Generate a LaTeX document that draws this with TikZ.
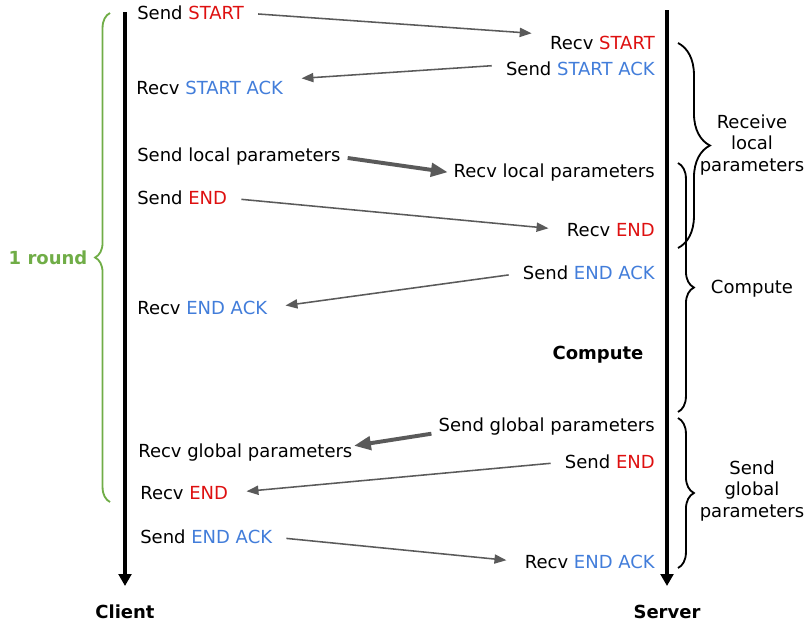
\documentclass[tikz,border=0pt]{standalone}
\usepackage{fontspec}
\setmainfont{DejaVu Sans}
\usetikzlibrary{arrows.meta, decorations.pathreplacing}

\definecolor{msgred}{RGB}{222,16,16}
\definecolor{msgblue}{RGB}{66,125,218}
\definecolor{roundgreen}{RGB}{112,173,71}
\definecolor{msggray}{RGB}{90,90,90}
\newcommand{\redtxt}[1]{\textcolor{msgred}{#1}}
\newcommand{\bluetxt}[1]{\textcolor{msgblue}{#1}}

\begin{document}
\begin{tikzpicture}[x=0.025cm, y=-0.025cm,
  font=\fontsize{12.8}{15.4}\selectfont,
  bold/.style={font=\fontsize{12.8}{15.4}\selectfont\bfseries},
  lbl/.style={inner sep=0pt, anchor=west},
  rbl/.style={inner sep=0pt, anchor=east},
  msg/.style={draw=msggray, line width=1.1pt, -{Triangle[length=8.5pt, width=6.5pt]},
              shorten <=10pt, shorten >=13pt},
  bigmsg/.style={msg, line width=2.8pt, -{Triangle[length=12pt, width=9.5pt]},
                 shorten <=5pt, shorten >=4pt},
  axis/.style={line width=2.8pt, -{Triangle[length=8.5pt, width=9pt]}},
  brc/.style={decorate, decoration={brace, amplitude=#1}, line width=1.3pt}]
\useasboundingbox (0,0) rectangle (806,626);

% Time axes
\coordinate (ctop) at (125,12);
\coordinate (cbot) at (125,586);
\coordinate (stop) at (667,10);
\coordinate (sbot) at (667,586);
\draw[axis] (ctop) -- (cbot);
\draw[axis] (stop) -- (sbot);
\node[bold] (client) at (125,612) {Client};
\node[bold] (server) at (667,612) {Server};

% Client side
\foreach \nm/\x/\y/\txt in {csstart/137/13/{Send \redtxt{START}},
    crstartack/136/88/{Recv \bluetxt{START ACK}},
    cslocal/137/157/{Send local parameters},
    csend/137/198/{Send \redtxt{END}},
    crendack/137/308/{Recv \bluetxt{END ACK}},
    crglobal/138/453/{Recv global parameters},
    crend/140/493/{Recv \redtxt{END}},
    csendack/140/537/{Send \bluetxt{END ACK}}} {
    \node[lbl] (\nm) at (\x,\y) {\txt};
}

% Server side
\foreach \nm/\y/\txt in {srstart/43/{Recv \redtxt{START}},
    ssstartack/69/{Send \bluetxt{START ACK}},
    srlocal/173/{Recv local parameters},
    srend/230/{Recv \redtxt{END}},
    ssendack/273/{Send \bluetxt{END ACK}},
    ssglobal/427/{Send global parameters},
    ssend/462/{Send \redtxt{END}},
    srendack/562/{Recv \bluetxt{END ACK}}} {
    \node[rbl] (\nm) at (655,\y) {\txt};
}
\node[bold] (compute) at (598,355) {Compute};

% Messages
\draw[msg] (csstart.east) -- ([yshift=6pt]srstart.west);
\draw[msg] ([yshift=3pt]ssstartack.west) -- ([yshift=6pt]crstartack.east);
\draw[bigmsg] (cslocal.east) -- (srlocal.west);
\draw[msg] (csend.east) -- (srend.west);
\draw[msg] (ssendack.west) -- (crendack.east);
\draw[bigmsg, shorten >=1pt] ([yshift=-4pt]ssglobal.west) -- ([yshift=5pt]crglobal.east);
\draw[msg] (ssend.west) -- (crend.east);
\draw[msg] (csendack.east) -- (srendack.west);

% Phases
\draw[brc=22.7pt] (678,43) -- (678,248);
\draw[brc=11.3pt] (678,163) -- (678,412);
\draw[brc=11.3pt] (678,418) -- (678,568);
\node[align=center] (rcvlbl) at (752,145) {Receive\\local\\parameters};
\node (cmplbl) at (752,289) {Compute};
\node[align=center] (sndlbl) at (752,491) {Send\\global\\parameters};

% One round
\draw[brc=10.6pt, draw=roundgreen] (110,502) -- (110,13);
\node[bold, text=roundgreen] (round) at (48,258) {1 round};
\end{tikzpicture}
\end{document}
